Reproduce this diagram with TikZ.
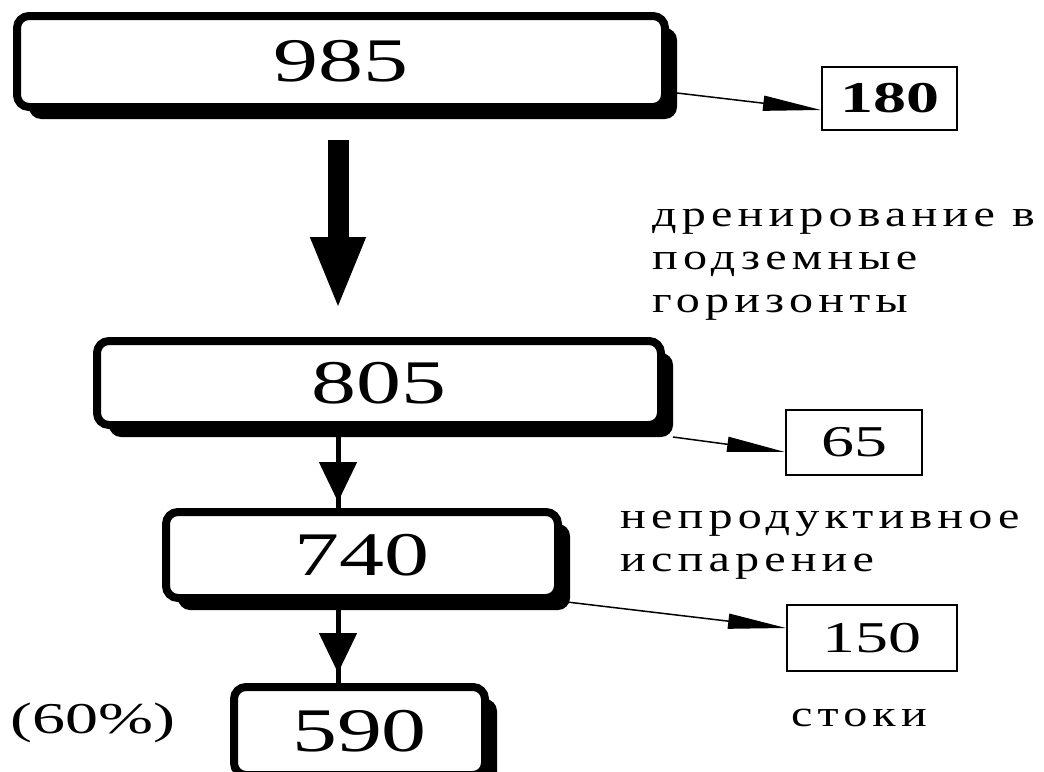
\documentclass[tikz,border=0pt]{standalone}
\usepackage{fontspec}
\setmainfont{Liberation Serif}
\newfontfamily\bignum[FakeStretch=1.45]{Liberation Serif}
\newfontfamily\smallnum[FakeStretch=1.5]{Liberation Serif}
\newfontfamily\notefont[FakeStretch=1.3,LetterSpace=14]{Liberation Serif}
\usetikzlibrary{arrows.meta,shadows}

\tikzset{
  bigbox/.style={draw, line width=8pt, rounded corners=12pt, fill=white, inner sep=0pt,
    drop shadow={shadow xshift=12pt, shadow yshift=-12pt, fill=black, opacity=1},
    font=\bignum\fontsize{62}{62}\selectfont},
  smallbox/.style={draw, line width=2pt, fill=white, inner sep=0pt,
    font=\smallnum\fontsize{44}{44}\selectfont},
  bigarrow/.style={line width=21pt, -{Triangle[length=73pt,width=50pt]}},
  stemline/.style={line width=5pt},
  smallarrow/.style={line width=5pt, -{Triangle[length=40pt,width=37pt]}},
  sidearrow/.style={line width=1.5pt, -{Triangle[length=58pt,width=15pt]}},
  note/.style={anchor=west, align=left, inner sep=0pt,
    font=\notefont\fontsize{37}{43}\selectfont},
}

\begin{document}
\begin{tikzpicture}[x=1pt,y=-1pt]
	\useasboundingbox (0,0) rectangle (1044,771);
	% balance boxes
	\node[bigbox, minimum width=648pt, minimum height=91pt] (n985) at (341,61.5) {985};
	\node[bigbox, minimum width=564pt, minimum height=84pt] (n805) at (379,383) {805};
	\node[bigbox, minimum width=392pt, minimum height=86pt] (n740) at (362,555) {740};
	\node[bigbox, minimum width=251pt, minimum height=88pt] (n590) at (359.5,731) {590};
	% losses
	\node[smallbox, minimum width=135pt, minimum height=63pt, font=\smallnum\bfseries\fontsize{44}{44}\selectfont] (n180) at (889.5,98.5) {180};
	\node[smallbox, minimum width=136pt, minimum height=65pt] (n65) at (854,442.5) {65};
	\node[smallbox, minimum width=170pt, minimum height=66pt] (n150) at (872,638) {150};
	% labels
	\node[note] (drain) at (652,265) {дренирование в\\подземные\\горизонты};
	\node[note] (evap) at (620,545) {непродуктивное\\испарение};
	\node[note, anchor=center] (runoff) at (859,718) {стоки};
	\node[inner sep=0pt, font=\smallnum\fontsize{44}{44}\selectfont] (share) at (93,723) {(60\%)};
	% arrows
	\coordinate (axis) at (338,0);
	\draw[bigarrow, shorten <=29pt, shorten >=27pt] (axis |- n985.south) -- (axis |- n805.north);
	\draw[stemline] (axis |- n805.south) -- (axis |- n740.north);
	\draw[smallarrow, shorten >=6pt] (axis |- n805.south) -- (axis |- n740.north);
	\draw[stemline] (axis |- n740.south) -- (axis |- n590.north);
	\draw[smallarrow, shorten >=10pt] (axis |- n740.south) -- (axis |- n590.north);
	\draw[sidearrow] ([xshift=8pt,yshift=-31.5pt]n985.east) -- ([yshift=-11.5pt]n180.west);
	\draw[sidearrow] ([xshift=8pt,yshift=-8pt]n805.south east) -- ([yshift=-9.5pt]n65.west);
	\draw[sidearrow] ([xshift=5pt]n740.south east) -- ([yshift=10pt]n150.west);
\end{tikzpicture}
\end{document}
